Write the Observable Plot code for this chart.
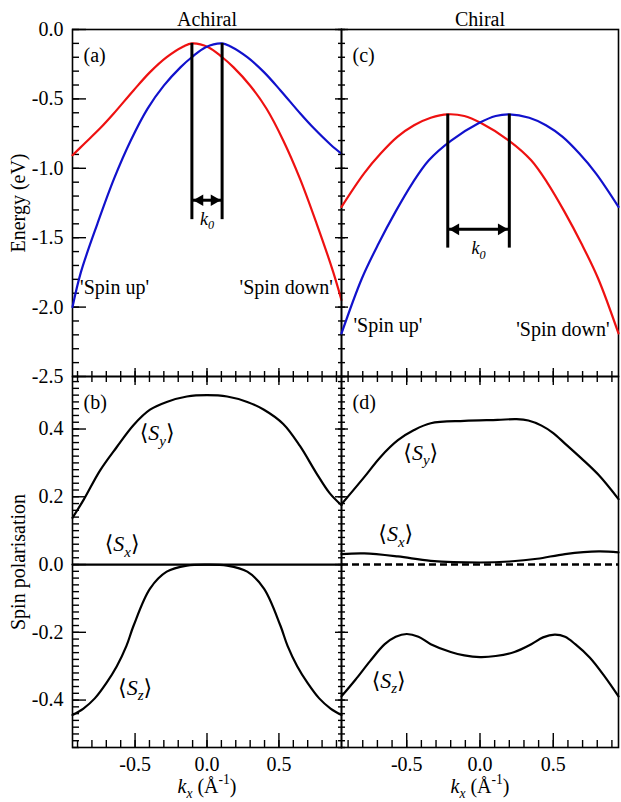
<!DOCTYPE html>
<html><head><meta charset="utf-8">
<script src="https://cdn.jsdelivr.net/npm/d3@7"></script>
<script src="https://cdn.jsdelivr.net/npm/@observablehq/plot@0.6"></script>
<style>
html,body{margin:0;padding:0;background:#fff;}
#chart{position:relative;width:621px;height:802px;overflow:hidden;}
#chart svg{position:absolute;}
#chart text{font-family:"Liberation Serif","Times New Roman","DejaVu Serif",serif !important;}
</style></head><body><div id="chart"></div>
<script>
// ---------- Tick values ----------
const energyMajor = [0, -0.5, -1, -1.5, -2, -2.5];
const energyMinor = d3.range(-25, 1).map(i => i / 10);
const spinMajor = [-0.4, -0.2, 0, 0.2, 0.4];
const spinMinor = d3.range(-27, 28).map(i => i / 50);
const kMajor = [-0.5, 0, 0.5];
const kMinor = d3.range(-9, 10).map(i => i / 10);

// ---------- (a) Achiral bands ----------
const achiralRedK = [-0.935, -0.86, -0.743, -0.65, -0.511, -0.396, -0.28, -0.164, -0.105, 0.009, 0.106, 0.183, 0.299, 0.414, 0.53, 0.646, 0.762, 0.877, 0.935];
const achiralRedE = [-0.906, -0.83, -0.712, -0.607, -0.439, -0.307, -0.199, -0.122, -0.100, -0.127, -0.200, -0.271, -0.403, -0.571, -0.799, -1.074, -1.398, -1.746, -1.95];
const achiralBlueK = [-0.935, -0.877, -0.762, -0.646, -0.53, -0.414, -0.299, -0.183, -0.106, -0.009, 0.105, 0.164, 0.28, 0.396, 0.511, 0.65, 0.743, 0.86, 0.935];
const achiralBlueE = [-2.0, -1.75, -1.40, -1.075, -0.80, -0.572, -0.403, -0.271, -0.200, -0.127, -0.100, -0.122, -0.199, -0.307, -0.439, -0.607, -0.712, -0.83, -0.895];
const achiralK0 = [-0.105, 0.105];      // peak positions
const achiralPeakE = [-0.1];
const achiralK0Bottom = [-1.37];
const achiralArrowE = [-1.23];

// ---------- (c) Chiral bands ----------
const chiralRedK = [-0.945, -0.792, -0.678, -0.564, -0.45, -0.336, -0.22, -0.107, 0.007, 0.197, 0.349, 0.463, 0.577, 0.692, 0.806, 0.945];
const chiralRedE = [-1.278, -1.038, -0.894, -0.774, -0.69, -0.636, -0.611, -0.623, -0.674, -0.80, -0.942, -1.11, -1.314, -1.542, -1.794, -2.19];
const chiralBlueK = [-0.945, -0.806, -0.692, -0.577, -0.463, -0.349, -0.197, -0.007, 0.107, 0.2, 0.336, 0.45, 0.564, 0.678, 0.792, 0.945];
const chiralBlueE = [-2.19, -1.794, -1.542, -1.314, -1.11, -0.942, -0.80, -0.674, -0.623, -0.611, -0.636, -0.69, -0.774, -0.894, -1.038, -1.278];
const chiralK0 = [-0.22, 0.2];
const chiralPeakE = [-0.61];
const chiralK0Bottom = [-1.575];
const chiralArrowE = [-1.44];

// ---------- (b) Achiral spin polarisation ----------
const achiralSyK = [-0.935, -0.859, -0.743, -0.627, -0.51, -0.396, -0.28, -0.14, 0, 0.14, 0.28, 0.396, 0.53, 0.646, 0.76, 0.854, 0.935];
const achiralSy = [0.138, 0.19, 0.278, 0.347, 0.412, 0.457, 0.48, 0.496, 0.50, 0.496, 0.48, 0.457, 0.415, 0.35, 0.27, 0.21, 0.175];
const achiralSxK = [-0.935, 0, 0.935];
const achiralSx = [0, 0, 0];
const achiralSzK = [-0.935, -0.859, -0.78, -0.7, -0.627, -0.56, -0.51, -0.396, -0.28, -0.14, 0, 0.14, 0.28, 0.396, 0.51, 0.56, 0.627, 0.7, 0.78, 0.859, 0.935];
const achiralSz = [-0.444, -0.425, -0.395, -0.35, -0.30, -0.24, -0.18, -0.071, -0.021, -0.003, 0, -0.003, -0.021, -0.071, -0.18, -0.24, -0.30, -0.35, -0.395, -0.425, -0.444];

// ---------- (d) Chiral spin polarisation ----------
const chiralSyK = [-0.945, -0.79, -0.68, -0.56, -0.45, -0.336, -0.107, 0.12, 0.25, 0.33, 0.42, 0.5, 0.58, 0.69, 0.81, 0.945];
const chiralSy = [0.178, 0.258, 0.317, 0.367, 0.397, 0.417, 0.424, 0.427, 0.429, 0.425, 0.41, 0.388, 0.357, 0.314, 0.264, 0.193];
const chiralSxK = [-0.945, -0.79, -0.56, -0.336, 0, 0.2, 0.39, 0.58, 0.81, 0.945];
const chiralSx = [0.031, 0.033, 0.024, 0.011, 0.006, 0.009, 0.017, 0.031, 0.039, 0.036];
const chiralSzK = [-0.945, -0.85, -0.75, -0.65, -0.575, -0.5, -0.42, -0.336, -0.2, -0.107, 0, 0.107, 0.235, 0.35, 0.43, 0.51, 0.58, 0.65, 0.75, 0.85, 0.945];
const chiralSz = [-0.389, -0.34, -0.285, -0.235, -0.213, -0.205, -0.213, -0.235, -0.258, -0.268, -0.273, -0.27, -0.258, -0.235, -0.215, -0.207, -0.213, -0.235, -0.275, -0.33, -0.389];
const zeroLineS = [0];

// ---------- Annotations (data units) ----------
const achiralSpinUp = [{t: "'Spin up'", k: -0.882, v: -1.856}];
const achiralSpinDown = [{t: "'Spin down'", k: 0.875, v: -1.856}];
const chiralSpinUp = [{t: "'Spin up'", k: -0.863, v: -2.13}];
const chiralSpinDown = [{t: "'Spin down'", k: 0.884, v: -2.165}];
const achiralSpinLabels = [
  {t: "⟨Sy⟩", k: -0.347, v: 0.388},
  {t: "⟨Sx⟩", k: -0.59, v: 0.06},
  {t: "⟨Sz⟩", k: -0.5, v: -0.364}
];
const chiralSpinLabels = [
  {t: "⟨Sy⟩", k: -0.404, v: 0.33},
  {t: "⟨Sx⟩", k: -0.575, v: 0.09},
  {t: "⟨Sz⟩", k: -0.623, v: -0.343}
];

// ---------- Styling ----------
const FONT = '"Liberation Serif", "Times New Roman", "DejaVu Serif", serif';
const FS = 20;
const RED = "#ee1111";
const BLUE = "#1111cc";
const rows = (K, V) => K.map((k, i) => ({k, v: V[i]}));
const fmt = d => d.toFixed(1);

function ticks(ax, anchor, major, minor, majLen, minLen) {
  const f = ax === "y" ? Plot.axisY : Plot.axisX;
  return [
    f(major, {anchor, tickSize: -majLen, fill: "none", label: null, strokeWidth: 1.4}),
    f(minor, {anchor, tickSize: -minLen, fill: "none", label: null, strokeWidth: 1.4})
  ];
}

function curve(K, V, stroke, extra = {}) {
  return Plot.line(rows(K, V), {x: "k", y: "v", stroke, strokeWidth: 2.2, curve: "catmull-rom", ...extra});
}

function k0Marks(K0, peak, bottom, arrowE) {
  const arrow = [{k1: K0[0], k2: K0[1], v: arrowE[0]}];
  return [
    Plot.ruleX(K0, {x: d => d, y1: peak[0], y2: bottom[0], strokeWidth: 3}),
    Plot.ruleY(arrow, {x1: "k1", x2: "k2", y: "v", strokeWidth: 3}),
    Plot.dot(arrow, {x: "k1", y: "v", symbol: "triangle", r: 4.3, fill: "black", rotate: -90, dx: 8}),
    Plot.dot(arrow, {x: "k2", y: "v", symbol: "triangle", r: 4.3, fill: "black", rotate: 90, dx: -8}),
    Plot.text(arrow, {x: d => (d.k1 + d.k2) / 2, y: "v", text: () => "k0", dy: 19, lineAnchor: "middle", fontSize: 18})
  ];
}

function tag(s) {
  return Plot.text([s], {frameAnchor: "top-left", dx: 11, dy: 26, lineAnchor: "middle", textAnchor: "start", fontSize: FS});
}

const chart = document.getElementById("chart");
function place(svg, left, top) {
  svg.style.left = left + "px";
  svg.style.top = top + "px";
  chart.appendChild(svg);
}
const baseStyle = {fontFamily: FONT, fontSize: FS + "px", background: "transparent", overflow: "visible", color: "black"};

// (a)
place(Plot.plot({
  width: 345, height: 380, marginLeft: 72, marginRight: 4, marginTop: 29, marginBottom: 4,
  x: {domain: [-0.935, 0.935]}, y: {domain: [-2.5, 0]}, style: baseStyle,
  marks: [
    Plot.frame({strokeWidth: 1.6}),
    Plot.axisY(energyMajor, {anchor: "left", tickSize: 0, tickPadding: 9, tickFormat: fmt, label: "Energy (eV)", labelAnchor: "center", labelArrow: false, labelOffset: 62}),
    ...ticks("y", "left", energyMajor, energyMinor, 14, 7),
    ...ticks("y", "right", energyMajor, energyMinor, 7, 4),
    ...ticks("x", "bottom", kMajor, kMinor, 8, 5),
    curve(achiralRedK, achiralRedE, RED),
    curve(achiralBlueK, achiralBlueE, BLUE),
    ...k0Marks(achiralK0, achiralPeakE, achiralK0Bottom, achiralArrowE),
    Plot.text(achiralSpinUp, {x: "k", y: "v", text: "t", textAnchor: "start", lineAnchor: "middle"}),
    Plot.text(achiralSpinDown, {x: "k", y: "v", text: "t", textAnchor: "end", lineAnchor: "middle"}),
    tag("(a)"),
    Plot.text(["Achiral"], {frameAnchor: "top", dy: -4, lineAnchor: "bottom"})
  ]
}), 0, 0);

// (c)
place(Plot.plot({
  width: 284, height: 380, marginLeft: 4, marginRight: 3, marginTop: 29, marginBottom: 4,
  x: {domain: [-0.945, 0.945]}, y: {domain: [-2.5, 0]}, style: baseStyle,
  marks: [
    Plot.frame({strokeWidth: 1.6}),
    ...ticks("y", "left", energyMajor, energyMinor, 7, 4),
    ...ticks("x", "bottom", kMajor, kMinor, 8, 5),
    curve(chiralRedK, chiralRedE, RED),
    curve(chiralBlueK, chiralBlueE, BLUE),
    ...k0Marks(chiralK0, chiralPeakE, chiralK0Bottom, chiralArrowE),
    Plot.text(chiralSpinUp, {x: "k", y: "v", text: "t", textAnchor: "start", lineAnchor: "middle"}),
    Plot.text(chiralSpinDown, {x: "k", y: "v", text: "t", textAnchor: "end", lineAnchor: "middle"}),
    tag("(c)"),
    Plot.text(["Chiral"], {frameAnchor: "top", dy: -4, lineAnchor: "bottom"})
  ]
}), 337, 0);

// (b)
place(Plot.plot({
  width: 345, height: 430, marginLeft: 72, marginRight: 4, marginTop: 4, marginBottom: 55,
  x: {domain: [-0.935, 0.935]}, y: {domain: [-0.54, 0.555]}, style: baseStyle,
  marks: [
    Plot.frame({strokeWidth: 1.6}),
    Plot.axisY(spinMajor, {anchor: "left", tickSize: 0, tickPadding: 9, tickFormat: fmt, label: "Spin polarisation", labelAnchor: "center", labelArrow: false, labelOffset: 62}),
    Plot.axisX(kMajor, {anchor: "bottom", tickSize: 0, tickPadding: 9, tickFormat: fmt, label: null}),
    ...ticks("y", "left", spinMajor, spinMinor, 14, 7),
    ...ticks("y", "right", spinMajor, spinMinor, 7, 4),
    ...ticks("x", "bottom", kMajor, kMinor, 14, 7),
    ...ticks("x", "top", kMajor, kMinor, 8, 5),
    curve(achiralSyK, achiralSy, "black"),
    curve(achiralSxK, achiralSx, "black", {curve: "linear"}),
    curve(achiralSzK, achiralSz, "black"),
    Plot.text(achiralSpinLabels, {x: "k", y: "v", text: "t", lineAnchor: "middle", fontSize: 22}),
    tag("(b)"),
    Plot.text(["kx (Å-1)"], {frameAnchor: "bottom", dy: 45, lineAnchor: "bottom"})
  ]
}), 0, 372);

// (d)
place(Plot.plot({
  width: 284, height: 430, marginLeft: 4, marginRight: 3, marginTop: 4, marginBottom: 55,
  x: {domain: [-0.945, 0.945]}, y: {domain: [-0.54, 0.555]}, style: baseStyle,
  marks: [
    Plot.frame({strokeWidth: 1.6}),
    Plot.axisX(kMajor, {anchor: "bottom", tickSize: 0, tickPadding: 9, tickFormat: fmt, label: null}),
    ...ticks("y", "left", spinMajor, spinMinor, 7, 4),
    ...ticks("x", "bottom", kMajor, kMinor, 14, 7),
    ...ticks("x", "top", kMajor, kMinor, 8, 5),
    Plot.ruleY(zeroLineS, {strokeWidth: 2.4, strokeDasharray: "7,4"}),
    curve(chiralSyK, chiralSy, "black"),
    curve(chiralSxK, chiralSx, "black"),
    curve(chiralSzK, chiralSz, "black"),
    Plot.text(chiralSpinLabels, {x: "k", y: "v", text: "t", lineAnchor: "middle", fontSize: 22}),
    tag("(d)"),
    Plot.text(["kx (Å-1)"], {frameAnchor: "bottom", dy: 45, lineAnchor: "bottom"})
  ]
}), 337, 372);

// ---------- rich text (italics, sub/superscripts) ----------
const RICH = {
  "⟨Sy⟩": [["⟨"], ["S", "i"], ["y", "i", "sub"], ["⟩"]],
  "⟨Sx⟩": [["⟨"], ["S", "i"], ["x", "i", "sub"], ["⟩"]],
  "⟨Sz⟩": [["⟨"], ["S", "i"], ["z", "i", "sub"], ["⟩"]],
  "k0": [["k", "i"], ["0", "i", "sub"]],
  "kx (Å-1)": [["k", "i"], ["x", "i", "sub"], [" (Å"], ["-1", "", "sup"], [")"]]
};
chart.querySelectorAll("text").forEach(t => {
  const spec = RICH[t.textContent];
  if (!spec) return;
  const fs = parseFloat(getComputedStyle(t).fontSize) || FS;
  t.textContent = "";
  let shift = 0;
  for (const [s, style = "", pos = ""] of spec) {
    const ts = document.createElementNS("http://www.w3.org/2000/svg", "tspan");
    ts.textContent = s;
    if (style.includes("i")) ts.setAttribute("font-style", "italic");
    const target = pos === "sub" ? 0.25 * fs : pos === "sup" ? -0.42 * fs : 0;
    if (target !== shift) { ts.setAttribute("dy", (target - shift).toFixed(1)); shift = target; }
    if (pos) ts.setAttribute("font-size", (0.68 * fs).toFixed(1));
    t.appendChild(ts);
  }
});
</script></body></html>
